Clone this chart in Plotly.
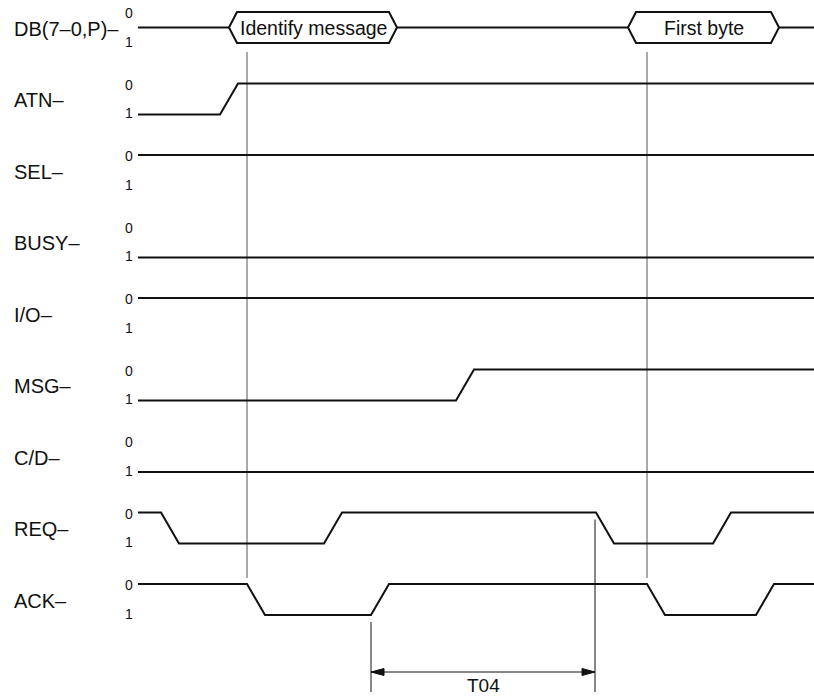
import plotly.graph_objects as go

# ---------------- data ----------------
signal_names = ["DB(7–0,P)–", "ATN–", "SEL–", "BUSY–", "I/O–", "MSG–", "C/D–", "REQ–", "ACK–"]

# waveforms: transition times and logic levels (0 = asserted/top, 1 = bottom)
atn_t = [138, 220, 238, 814]
atn_v = [1, 1, 0, 0]
sel_t = [138, 814]
sel_v = [0, 0]
busy_t = [138, 814]
busy_v = [1, 1]
io_t = [138, 814]
io_v = [0, 0]
msg_t = [138, 456, 474, 814]
msg_v = [1, 1, 0, 0]
cd_t = [138, 814]
cd_v = [1, 1]
req_t = [138, 161, 179, 324, 342, 596, 614, 713, 731, 814]
req_v = [0, 0, 1, 1, 0, 0, 1, 1, 0, 0]
ack_t = [138, 247, 265, 371, 389, 647, 665, 756, 774, 814]
ack_v = [0, 0, 1, 1, 0, 0, 1, 1, 0, 0]

# data bus windows: start, end, label
bus_start = [229, 628]
bus_end = [397, 779]
bus_labels = ["Identify message", "First byte"]
bus_span = [138, 814]

# reference (sampling) lines
ref_times = [247, 647]

# T04 timing measurement
t04_start = 371
t04_end = 595
t04_label = "T04"

# ---------------- layout constants ----------------
W, H = 814, 696
ROW0 = 12.0       # y of the 0-level of first row
PITCH = 71.5      # row spacing
SWING = 31.0      # distance between level 0 and level 1
BEVEL = 8
LINE_COLOR = "#111111"
LW = 2
FONT = "Liberation Sans, Arial, sans-serif"

def level_y(row, lvl):
    return ROW0 + PITCH * row + SWING * lvl

fig = go.Figure()

def add_line(xs, ys, color=LINE_COLOR, width=LW):
    fig.add_trace(go.Scatter(x=xs, y=ys, mode="lines",
                             line=dict(color=color, width=width),
                             hoverinfo="skip", showlegend=False))

# reference vertical lines (drawn first so signals sit on top)
for t in ref_times:
    add_line([t, t], [level_y(0, 0) + 40, level_y(8, 0) - 6], color="#555555", width=1)

# data bus row
mid = level_y(0, 0.5)
top = level_y(0, 0)
bot = level_y(0, 1)
edges = [bus_span[0]]
for a, b in zip(bus_start, bus_end):
    edges += [a, b]
edges.append(bus_span[1])
for i in range(0, len(edges), 2):
    add_line([edges[i], edges[i + 1]], [mid, mid])
for a, b in zip(bus_start, bus_end):
    xs = [a, a + BEVEL, b - BEVEL, b, b - BEVEL, a + BEVEL, a]
    ys = [mid, top, top, mid, bot, bot, mid]
    fig.add_trace(go.Scatter(x=xs, y=ys, mode="lines", fill="toself",
                             fillcolor="white", line=dict(color=LINE_COLOR, width=LW),
                             hoverinfo="skip", showlegend=False))

waves = [(atn_t, atn_v), (sel_t, sel_v), (busy_t, busy_v), (io_t, io_v),
         (msg_t, msg_v), (cd_t, cd_v), (req_t, req_v), (ack_t, ack_v)]
for r, (ts, vs) in enumerate(waves, start=1):
    add_line(ts, [level_y(r, v) for v in vs])

# T04 measurement
arrow_y = 672
add_line([t04_start, t04_start], [622, 692], width=1)
add_line([t04_end, t04_end], [level_y(7, 0) + 7, 692], width=1)
add_line([t04_start, t04_end], [arrow_y, arrow_y], width=1)
AL, AH = 13, 3.5
for tip, d in ((t04_start, 1), (t04_end, -1)):
    fig.add_trace(go.Scatter(x=[tip, tip + d * AL, tip + d * AL, tip],
                             y=[arrow_y, arrow_y - AH, arrow_y + AH, arrow_y],
                             mode="lines", fill="toself", fillcolor=LINE_COLOR,
                             line=dict(color=LINE_COLOR, width=1),
                             hoverinfo="skip", showlegend=False))

annotations = []
for r, name in enumerate(signal_names):
    annotations.append(dict(x=12, y=level_y(r, 0.5) + 1, text=name, xanchor="left",
                            yanchor="middle", showarrow=False,
                            font=dict(family=FONT, size=20, color="#111111")))
    annotations.append(dict(x=128.5, y=level_y(r, 0) + 1, text="0", xanchor="center",
                            yanchor="middle", showarrow=False,
                            font=dict(family=FONT, size=14, color="#111111")))
    annotations.append(dict(x=128.5, y=level_y(r, 1) - 1.5, text="1", xanchor="center",
                            yanchor="middle", showarrow=False,
                            font=dict(family=FONT, size=14, color="#111111")))
for a, b, lab in zip(bus_start, bus_end, bus_labels):
    annotations.append(dict(x=(a + b) / 2, y=mid, text=lab, xanchor="center",
                            yanchor="middle", showarrow=False,
                            font=dict(family=FONT, size=19.5, color="#111111")))
annotations.append(dict(x=(t04_start + t04_end) / 2, y=685, text=t04_label,
                        xanchor="center", yanchor="middle", showarrow=False,
                        font=dict(family=FONT, size=19, color="#111111")))

fig.update_layout(
    width=W, height=H,
    margin=dict(l=0, r=0, t=0, b=0),
    paper_bgcolor="white", plot_bgcolor="white",
    xaxis=dict(range=[0, W], visible=False, fixedrange=True),
    yaxis=dict(range=[H, 0], visible=False, fixedrange=True),
    annotations=annotations,
    showlegend=False,
)

# remove the default 8px body margin so the figure fills the window exactly
fig.write_html("out.html", config={"displayModeBar": False},
               post_script="document.body.style.margin='0';document.body.style.overflow='hidden';")
